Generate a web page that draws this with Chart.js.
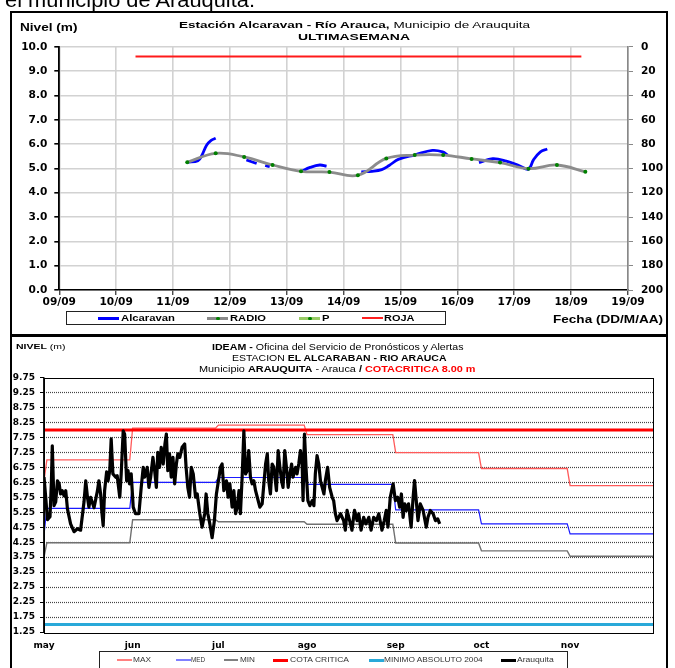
<!DOCTYPE html>
<html><head><meta charset="utf-8">
<script src="https://cdn.jsdelivr.net/npm/chart.js@4"></script>
<style>
html,body{margin:0;padding:0;background:#fff;width:675px;height:668px;overflow:hidden;position:relative;font-family:"Liberation Sans",Arial,sans-serif;color:#000;}
.box{position:absolute;box-sizing:border-box;}
.t{position:absolute;white-space:nowrap;transform-origin:0 50%;line-height:1;}
.ln{position:absolute;}
canvas{position:absolute;left:0;}
</style></head><body>

<div class="box" style="left:10px;top:11px;width:658px;height:325px;border:2.5px solid #000;"></div>
<div class="box" style="left:10px;top:335px;width:658px;height:360px;border:2.5px solid #000;"></div>

<!-- top chart legend box -->
<div class="box" style="left:65.5px;top:310.5px;width:380px;height:14.5px;border:1px solid #222;"></div>
<div class="ln" style="left:98px;top:317px;width:21px;height:2.5px;background:#0000ff"></div>
<div class="ln" style="left:207px;top:317px;width:21px;height:2.5px;background:#8a8a8a"></div>
<div class="ln" style="left:216px;top:316.5px;width:3.5px;height:3.5px;background:#008000;border-radius:2px"></div>
<div class="ln" style="left:299px;top:317px;width:21px;height:2.5px;background:#99cc66"></div>
<div class="ln" style="left:308px;top:316.5px;width:3.5px;height:3.5px;background:#008000;border-radius:2px"></div>
<div class="ln" style="left:362px;top:317px;width:21px;height:2px;background:#ff2020"></div>

<!-- bottom chart legend box -->
<div class="box" style="left:99px;top:651px;width:469px;height:30px;border:1px solid #222;"></div>
<div class="ln" style="left:117px;top:659px;width:15px;height:1.5px;background:#ff8080"></div>
<div class="ln" style="left:176px;top:659px;width:15px;height:1.5px;background:#8080ff"></div>
<div class="ln" style="left:224px;top:659px;width:14px;height:1.5px;background:#808080"></div>
<div class="ln" style="left:273px;top:658.5px;width:15px;height:3px;background:#ff0000"></div>
<div class="ln" style="left:369px;top:658.5px;width:15px;height:3px;background:#29a9d9"></div>
<div class="ln" style="left:501px;top:658.5px;width:15px;height:3px;background:#000"></div>

<canvas id="c1" width="675" height="336" style="top:0px;width:675px;height:336px"></canvas>
<canvas id="c2" width="675" height="332" style="top:336px;width:675px;height:332px"></canvas>

<script>
// ---------------- DATA: top chart (last week) ----------------
const topDateLabels = ['09/09','10/09','11/09','12/09','13/09','14/09','15/09','16/09','17/09','18/09','19/09'];
const topFirstDay = 9;
// [day of September, level m]
const radioReadings = [[11.25,5.25],[11.75,5.62],[12.25,5.47],[12.75,5.14],[13.25,4.88],[13.75,4.85],[14.25,4.72],[14.75,5.41],[15.25,5.55],[15.75,5.55],[16.25,5.39],[16.75,5.24],[17.25,4.99],[17.75,5.14],[18.25,4.86]];
// null marks a gap in the record
const alcaravanReadings = [[11.25,5.25],[11.44,5.32],[11.5,5.5],[11.59,5.95],[11.67,6.15],[11.75,6.24],null,
  [12.29,5.35],[12.47,5.2],null,[12.62,5.12],[12.7,5.07],null,
  [13.25,4.87],[13.41,5.04],[13.58,5.14],[13.7,5.09],null,
  [14.31,4.86],[14.5,4.88],[14.67,4.95],[14.8,5.12],[14.97,5.38],[15.26,5.56],[15.56,5.74],[15.74,5.68],[15.83,5.54],null,
  [16.38,5.24],[16.62,5.4],[16.86,5.3],[17.1,5.1],[17.25,4.97],[17.34,5.36],[17.46,5.68],[17.58,5.8]];
const pReadings = [];
const rojaReadings = [[10.34,9.6],[18.18,9.6]];

// ---------------- DATA: bottom chart (season) ----------------
const monthLabels = ['may','jun','jul','ago','sep','oct','nov'];
const monthStartDays = [0,31,61,92,123,153,184];
const lastDay = 213;
const maxFirstDay = 6.3,  maxLevels = [7.0,8.06,8.16,7.84,7.24,6.71,6.14];
const medFirstDay = 4.5,  medLevels = [5.38,6.25,6.41,6.18,5.33,4.86,4.53];
const minFirstDay = 3.75, minLevels = [4.23,5.0,4.93,4.85,4.22,3.96,3.78];
const cotaCritica = 8.0;
const minimoAbsoluto2004 = 1.5;
// [days since 1 May, level m]
const arauquitaReadings = [[0,6.42],[0.6,5.75],[1.2,5.0],[2.1,5.1],[2.6,6.3],[2.9,7.47],[3.5,5.47],[4.1,5.6],[4.7,6.3],[5.3,6.2],[5.8,5.86],[6.4,5.97],[7.0,5.8],[7.6,5.97],[8.2,5.36],[9.3,4.86],[10.5,4.6],[11.7,4.7],[12.8,4.65],[14.0,5.6],[14.6,6.3],[15.2,5.75],[15.7,5.42],[16.3,5.75],[17.5,5.4],[18.7,5.97],[19.2,6.3],[19.8,5.86],[20.2,5.3],[20.7,4.8],[21.2,5.97],[21.9,6.6],[22.4,6.3],[23.0,6.64],[23.5,7.7],[24.1,6.53],[25.1,6.42],[25.6,6.47],[26.5,5.75],[27.0,6.53],[27.7,7.97],[28.2,7.86],[28.9,6.3],[29.4,6.64],[29.9,6.2],[30.5,6.53],[31.2,5.42],[32.0,5.2],[33.2,5.2],[34.0,6.08],[34.7,6.75],[35.2,6.42],[36.1,6.75],[36.7,6.08],[37.3,6.42],[38.1,7.08],[38.7,6.64],[39.3,6.08],[39.8,7.25],[40.4,6.75],[41.0,7.42],[41.7,6.86],[42.3,7.53],[42.8,7.86],[43.3,6.64],[43.9,7.2],[44.5,6.42],[45.1,7.08],[45.7,6.2],[46.3,6.86],[46.8,7.2],[47.5,7.08],[48.3,7.42],[49.2,7.53],[49.7,6.75],[50.3,6.08],[50.9,5.75],[51.5,6.75],[52.2,6.53],[53.0,5.75],[53.6,5.86],[54.5,5.2],[55.3,4.75],[56.2,5.2],[56.7,5.86],[57.3,5.2],[58.0,4.86],[58.8,4.4],[59.6,4.97],[60.3,5.86],[61.2,6.42],[61.7,6.75],[62.3,6.86],[62.9,5.97],[63.8,6.3],[64.4,5.75],[65.0,6.2],[65.8,5.42],[66.4,5.97],[67.0,5.2],[67.6,5.42],[68.2,5.97],[68.7,5.2],[69.3,6.42],[69.9,7.97],[70.5,6.53],[71.1,6.64],[71.6,7.31],[72.2,6.42],[72.8,6.2],[73.4,6.3],[74.0,5.97],[74.6,5.75],[75.5,5.42],[76.3,5.53],[76.9,6.2],[77.5,6.86],[78.1,7.2],[78.6,6.3],[79.2,5.86],[79.8,6.86],[80.4,6.75],[81.3,5.97],[81.9,7.31],[82.5,6.75],[83.1,6.3],[83.6,6.08],[84.2,7.31],[84.8,6.75],[85.4,6.08],[86.0,6.53],[86.6,6.86],[87.1,6.42],[88.0,6.75],[88.5,6.53],[89.1,6.86],[89.7,7.31],[90.3,6.86],[90.6,5.64],[91.1,7.86],[91.7,6.64],[92.3,5.64],[93.0,5.47],[93.8,5.64],[94.4,5.47],[94.9,6.53],[95.5,7.14],[96.1,6.86],[96.7,6.3],[97.3,6.08],[97.9,5.86],[98.4,6.3],[99.2,6.75],[99.9,6.08],[100.8,5.75],[101.3,5.64],[101.9,5.2],[102.5,4.97],[103.7,5.2],[104.8,4.97],[105.4,4.65],[106.0,5.31],[106.9,4.97],[107.7,4.65],[108.6,5.31],[109.5,4.97],[110.1,5.2],[110.9,4.65],[111.8,5.08],[112.6,4.86],[113.6,5.08],[114.4,4.65],[115.3,5.08],[116.3,4.97],[117.1,5.2],[118.2,4.65],[119.0,4.97],[119.7,5.31],[120.3,4.75],[121.1,5.75],[122.1,6.2],[122.9,5.64],[123.7,5.75],[124.4,5.42],[125.0,5.86],[125.6,5.08],[126.2,5.53],[126.7,5.31],[127.5,5.53],[128.4,4.75],[129.1,5.75],[129.6,6.31],[130.2,5.64],[130.8,4.97],[131.6,5.53],[132.6,5.31],[133.7,4.75],[134.3,5.08],[135.1,5.31],[136.1,5.2],[136.9,4.97],[137.7,5.03],[138.4,4.86]];

// ---------------- helpers ----------------
const toXY = arr => arr.map((p,i) => p ? {x:p[0], y:p[1]} : {x:(arr[i-1][0]+arr[i+1][0])/2, y:null});
function monthly(first, levels){
  const pts = [{x:0, y:first}];
  levels.forEach((v,i) => {
    const s = i === 0 ? 1 : monthStartDays[i];
    const e = i < levels.length-1 ? monthStartDays[i+1]-1 : lastDay;
    pts.push({x:s, y:v}, {x:e, y:v});
  });
  return pts;
}
const flat = v => [{x:0, y:v}, {x:lastDay, y:v}];

// ---------------- texts ----------------
const texts = [
  {html:'el municipio de Arauquita.', l:5, w:250, cy:-0.5, fs:21},
  {html:'<b>Nivel (m)</b>', l:19.5, w:57.5, cy:27.5, fs:10.5},
  {html:'<b>Estación Alcaravan - Río Arauca,</b> Municipio de Arauquita', l:179, w:351, cy:25, fs:9.8},
  {html:'<b>ULTIMASEMANA</b>', l:298, w:112, cy:36.5, fs:9.8},
  {html:'<b>Alcaravan</b>', l:121, w:54, cy:318, fs:9.5},
  {html:'<b>RADIO</b>', l:230, w:36, cy:318, fs:9.5},
  {html:'<b>P</b>', l:321.5, w:7.5, cy:318, fs:9.5},
  {html:'<b>ROJA</b>', l:384, w:30.5, cy:318, fs:9.5},
  {html:'<b>Fecha (DD/M/AA)</b>', l:552.5, w:110, cy:319, fs:10.5},
  {html:'<b>NIVEL</b> (m)', l:16, w:49.5, cy:347, fs:8},
  {html:'<b>IDEAM -</b> Oficina del Servicio de Pronósticos y Alertas', l:211.5, w:251.5, cy:347, fs:9},
  {html:'ESTACION <b>EL ALCARABAN - RIO ARAUCA</b>', l:232.3, w:214.5, cy:358.3, fs:9},
  {html:'Municipio <b>ARAUQUITA</b> - Arauca <b>/</b> <b style="color:#ff0000">COTACRITICA 8.00 m</b>', l:198.5, w:276.5, cy:369.3, fs:9},
  {html:'MAX', l:133, w:18, cy:660, fs:7.8, c:'#333'},
  {html:'MED', l:191.3, w:14.2, cy:660, fs:7.8, c:'#333'},
  {html:'MIN', l:239.6, w:15, cy:660, fs:7.8, c:'#333'},
  {html:'COTA CRITICA', l:290, w:59, cy:660, fs:7.8, c:'#333'},
  {html:'MINIMO ABSOLUTO 2004', l:384, w:98.7, cy:660, fs:7.8, c:'#333'},
  {html:'Arauquita', l:517.3, w:36.7, cy:660, fs:7.8, c:'#333'}
];
texts.forEach(t => {
  const d = document.createElement('div');
  d.className = 't';
  d.innerHTML = t.html;
  d.style.fontSize = t.fs + 'px';
  if (t.c) d.style.color = t.c;
  document.body.appendChild(d);
  const w = d.getBoundingClientRect().width, h = d.getBoundingClientRect().height;
  d.style.left = t.l + 'px';
  d.style.top = (t.cy - h/2) + 'px';
  d.style.transform = 'scaleX(' + (t.w / w) + ')';
});

// ---------------- charts ----------------
Chart.defaults.font.family = 'DejaVu Sans';
Chart.defaults.color = '#000';

const topFont = {family:'DejaVu Sans', weight:'bold', size:10.6};
new Chart(document.getElementById('c1'), {
  type: 'line',
  data: { datasets: [
    {label:'RADIO', data:toXY(radioReadings), borderColor:'#8c8c8c', borderWidth:2.8, tension:0.4,
     pointRadius:2, pointBackgroundColor:'#008000', pointBorderWidth:0, order:1, yAxisID:'y'},
    {label:'Alcaravan', data:toXY(alcaravanReadings), borderColor:'#0000ff', borderWidth:2.8, tension:0.4,
     pointRadius:0, spanGaps:false, order:2, yAxisID:'y'},
    {label:'P', data:toXY(pReadings), borderColor:'#99cc66', borderWidth:2, pointRadius:2,
     pointBackgroundColor:'#008000', order:3, yAxisID:'y2'},
    {label:'ROJA', data:toXY(rojaReadings), borderColor:'#ff1a1a', borderWidth:2, pointRadius:0, order:4, yAxisID:'y'}
  ]},
  options: {
    responsive:false, animation:false, events:[],
    layout:{padding:{top:46.8, left:0, right:0, bottom:0}, autoPadding:false},
    plugins:{legend:{display:false}, title:{display:false}, tooltip:{enabled:false}},
    scales:{
      x:{type:'linear', min:topFirstDay, max:topFirstDay+topDateLabels.length-1,
         afterBuildTicks: s => { s.ticks = topDateLabels.map((_,i)=>({value:topFirstDay+i})); },
         ticks:{callback:(v)=>topDateLabels[Math.round(v-topFirstDay)], font:topFont, color:'#000', padding:1, maxRotation:0, autoSkip:false},
         grid:{color:'#d2d2d2', lineWidth:1.6, tickColor:'#000', tickLength:5, tickWidth:1},
         border:{color:'#000', width:1.6},
         afterFit: s => { s.height = 336-290; }},
      y:{type:'linear', position:'left', min:0, max:10,
         afterBuildTicks: s => { s.ticks = topDateLabels.map((_,i)=>({value:i})); },
         ticks:{callback:v=>v.toFixed(1), font:topFont, color:'#000', padding:7},
         grid:{color:'#d2d2d2', lineWidth:1.6, tickColor:'#000', tickLength:5},
         border:{color:'#000', width:1.8},
         afterFit: s => { s.width = 59.3; }},
      y2:{type:'linear', position:'right', min:0, max:200, reverse:true,
         ticks:{stepSize:20, font:topFont, color:'#000', padding:8},
         grid:{drawOnChartArea:false, tickColor:'#888', tickLength:5},
         border:{color:'#888', width:1.6},
         afterFit: s => { s.width = 675-628; }}
    }
  }
});

const frame = {
  id:'frame',
  beforeDatasetsDraw(chart){
    const {ctx, chartArea:a, scales:{y}} = chart;
    ctx.save();
    ctx.strokeStyle = '#444'; ctx.lineWidth = 1.2; ctx.setLineDash([1,1]);
    y.ticks.forEach(t => {
      const py = Math.round(y.getPixelForValue(t.value)) + 0.5;
      if (py > a.top + 1 && py < a.bottom - 1) {
        ctx.beginPath(); ctx.moveTo(a.left, py); ctx.lineTo(a.right, py); ctx.stroke();
      }
    });
    ctx.restore();
  },
  afterDraw(chart){
    const {ctx, chartArea:a} = chart;
    ctx.save();
    ctx.strokeStyle = '#000'; ctx.lineWidth = 1;
    ctx.strokeRect(Math.round(a.left)+0.5, Math.round(a.top)+0.5, Math.round(a.right-a.left), Math.round(a.bottom-a.top));
    ctx.lineWidth = 1.8;
    ctx.beginPath(); ctx.moveTo(a.left, a.top); ctx.lineTo(a.left, a.bottom); ctx.stroke();
    ctx.restore();
  }
};

const botFont = {family:'DejaVu Sans', weight:'bold', size:9};
new Chart(document.getElementById('c2'), {
  type:'line',
  data:{ datasets:[
    {label:'Arauquita', data:toXY(arauquitaReadings), borderColor:'#000', borderWidth:3.2, pointRadius:0, tension:0, order:1, borderJoinStyle:'round'},
    {label:'COTA CRITICA', data:flat(cotaCritica), borderColor:'#ff0000', borderWidth:3, pointRadius:0, order:2},
    {label:'MINIMO ABSOLUTO 2004', data:flat(minimoAbsoluto2004), borderColor:'#29a9d9', borderWidth:3, pointRadius:0, order:3},
    {label:'MAX', data:monthly(maxFirstDay, maxLevels), borderColor:'#ff5a5a', borderWidth:1.3, pointRadius:0, order:4},
    {label:'MED', data:monthly(medFirstDay, medLevels), borderColor:'#1a1aff', borderWidth:1.2, pointRadius:0, order:5},
    {label:'MIN', data:monthly(minFirstDay, minLevels), borderColor:'#707070', borderWidth:1.4, pointRadius:0, order:6}
  ]},
  options:{
    responsive:false, animation:false, events:[],
    layout:{padding:{top:41.5, left:0, right:22, bottom:0}, autoPadding:false},
    plugins:{legend:{display:false}, title:{display:false}, tooltip:{enabled:false}},
    scales:{
      x:{type:'linear', min:0, max:lastDay,
         afterBuildTicks: s => { s.ticks = monthStartDays.map(v=>({value:v})); },
         ticks:{callback:(v)=>monthLabels[monthStartDays.indexOf(v)], font:botFont, color:'#000', padding:8, maxRotation:0, autoSkip:false},
         grid:{display:false, drawTicks:false},
         border:{display:false},
         afterFit: s => { s.height = 332-296; }},
      y:{type:'linear', min:1.25, max:9.75,
         afterBuildTicks: s => { s.ticks = []; for (let v=1.25; v<=9.76; v+=0.5) s.ticks.push({value:+v.toFixed(2)}); },
         ticks:{callback:v=>v.toFixed(2), font:botFont, color:'#000', padding:5},
         grid:{drawOnChartArea:false, tickColor:'#000', tickLength:4},
         border:{display:false},
         afterFit: s => { s.width = 44; }}
    }
  },
  plugins:[frame]
});
</script>
</body></html>
